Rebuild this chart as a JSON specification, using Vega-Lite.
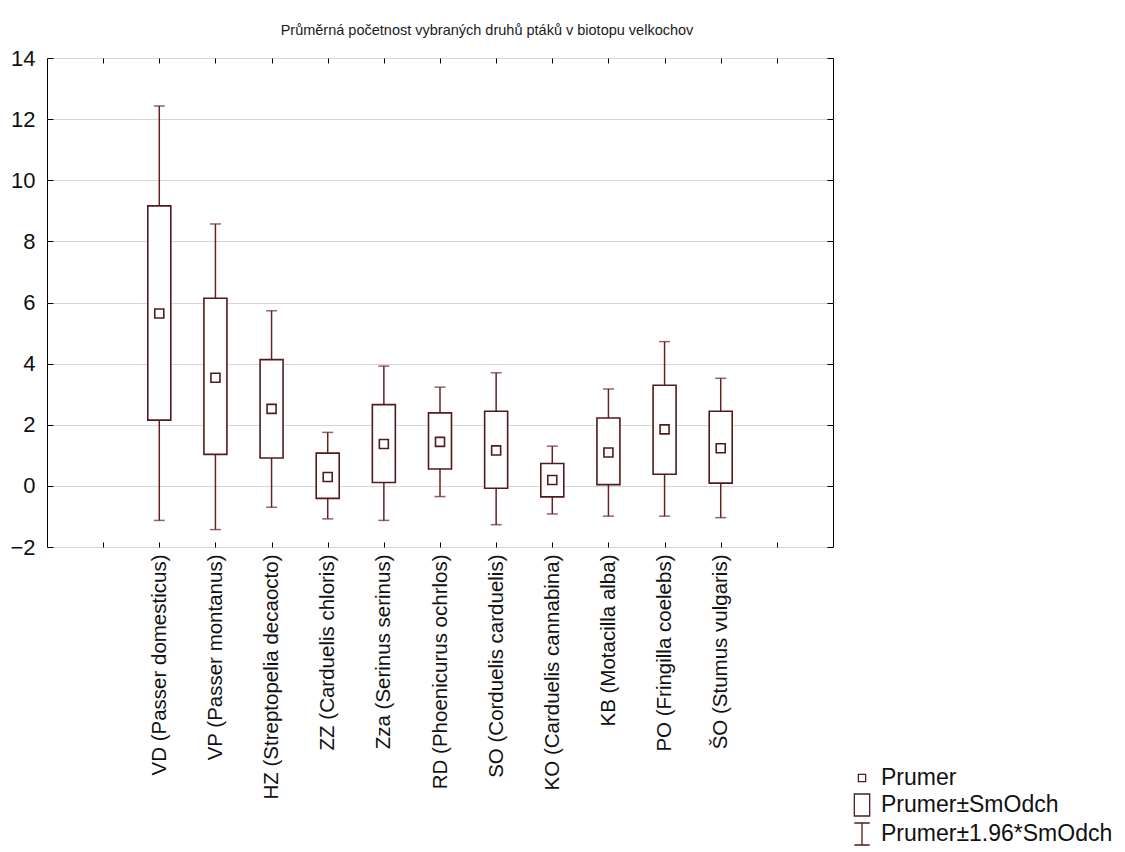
{
  "$schema": "https://vega.github.io/schema/vega-lite/v6.json",
  "width": 786,
  "height": 489,
  "autosize": "none",
  "padding": {"left": 47, "top": 58, "right": 292, "bottom": 305},
  "background": "white",
  "config": {
    "view": {"stroke": "black", "strokeWidth": 1},
    "font": "Liberation Sans"
  },
  "title": {
    "text": "Průměrná početnost vybraných druhů ptáků v biotopu velkochov",
    "fontSize": 14.5,
    "fontWeight": "normal",
    "color": "#1a1a1a",
    "font": "Liberation Sans",
    "dx": 47,
    "offset": 9
  },
  "data": {
    "values": [
      {"sp": "VD (Passer domesticus)", "mean": 5.64, "bl": 2.15, "bh": 9.16, "wl": -1.13, "wh": 12.43},
      {"sp": "VP (Passer montanus)", "mean": 3.54, "bl": 1.03, "bh": 6.14, "wl": -1.43, "wh": 8.57},
      {"sp": "HZ (Streptopelia decaocto)", "mean": 2.52, "bl": 0.91, "bh": 4.13, "wl": -0.70, "wh": 5.73},
      {"sp": "ZZ (Carduelis chloris)", "mean": 0.29, "bl": -0.41, "bh": 1.07, "wl": -1.08, "wh": 1.75},
      {"sp": "Zza (Serinus serinus)", "mean": 1.37, "bl": 0.11, "bh": 2.66, "wl": -1.13, "wh": 3.92},
      {"sp": "RD (Phoenicurus ochrlos)", "mean": 1.44, "bl": 0.55, "bh": 2.39, "wl": -0.35, "wh": 3.23},
      {"sp": "SO (Corduelis carduelis)", "mean": 1.16, "bl": -0.08, "bh": 2.44, "wl": -1.27, "wh": 3.70},
      {"sp": "KO (Carduelis cannabina)", "mean": 0.19, "bl": -0.36, "bh": 0.73, "wl": -0.92, "wh": 1.30},
      {"sp": "KB (Motacilla alba)", "mean": 1.09, "bl": 0.04, "bh": 2.22, "wl": -0.99, "wh": 3.17},
      {"sp": "PO (Fringilla coelebs)", "mean": 1.85, "bl": 0.38, "bh": 3.29, "wl": -0.99, "wh": 4.72},
      {"sp": "ŠO (Stumus vulgaris)", "mean": 1.23, "bl": 0.09, "bh": 2.44, "wl": -1.04, "wh": 3.52}
    ]
  },
  "resolve": {"axis": {"x": "independent", "y": "independent"}},
  "layer": [
    {
      "mark": {"type": "rule", "color": "#652222", "strokeWidth": 1.5},
      "encoding": {
        "x": {
          "field": "sp", "type": "nominal", "sort": null,
          "scale": {"type": "point", "padding": 1, "domain": ["_a", "VD (Passer domesticus)", "VP (Passer montanus)", "HZ (Streptopelia decaocto)", "ZZ (Carduelis chloris)", "Zza (Serinus serinus)", "RD (Phoenicurus ochrlos)", "SO (Corduelis carduelis)", "KO (Carduelis cannabina)", "KB (Motacilla alba)", "PO (Fringilla coelebs)", "ŠO (Stumus vulgaris)", "_b"]},
          "axis": {
            "title": null, "orient": "bottom", "domain": false, "grid": false,
            "labelAngle": -90, "labelFontSize": 20.5, "labelColor": "#111111",
            "labelPadding": 12, "tickSize": -5, "tickColor": "black", "tickWidth": 1,
            "labelExpr": "datum.value == '_a' || datum.value == '_b' ? '' : datum.value",
            "labelOverlap": false, "labelLimit": 400
          }
        },
        "y": {
          "field": "wl", "type": "quantitative",
          "scale": {"domain": [-2, 14], "nice": false, "zero": false},
          "axis": {
            "title": null, "orient": "left", "domain": false, "grid": true,
            "gridColor": "#d6d6d6", "gridWidth": 1,
            "values": [-2, 0, 2, 4, 6, 8, 10, 12, 14],
            "labelFontSize": 22, "labelColor": "#111111", "labelPadding": 18,
            "tickSize": -6, "tickColor": "black"
          }
        },
        "y2": {"field": "wh"}
      }
    },
    {
      "mark": {"type": "tick", "color": "#652222", "thickness": 1.5, "size": 11},
      "encoding": {
        "x": {"field": "sp", "type": "nominal", "sort": null, "axis": {"orient": "top", "title": null, "labels": false, "domain": false, "grid": false, "tickSize": -5, "tickColor": "black"}},
        "y": {"field": "wl", "type": "quantitative", "axis": {"orient": "right", "title": null, "labels": false, "domain": false, "grid": false, "values": [-2, 0, 2, 4, 6, 8, 10, 12, 14], "tickSize": -6, "tickColor": "black"}}
      }
    },
    {
      "mark": {"type": "tick", "color": "#652222", "thickness": 1.5, "size": 11},
      "encoding": {
        "x": {"field": "sp", "type": "nominal", "sort": null, "axis": null},
        "y": {"field": "wh", "type": "quantitative", "axis": null}
      }
    },
    {
      "mark": {"type": "bar", "fill": "white", "stroke": "#521a1a", "strokeWidth": 1.6, "size": 23},
      "encoding": {
        "x": {"field": "sp", "type": "nominal", "sort": null, "axis": null},
        "y": {"field": "bl", "type": "quantitative", "axis": null},
        "y2": {"field": "bh"}
      }
    },
    {
      "mark": {"type": "point", "filled": false, "color": "#521a1a", "strokeWidth": 1.6, "size": 745, "opacity": 1},
      "encoding": {
        "x": {"field": "sp", "type": "nominal", "sort": null, "axis": null},
        "y": {"field": "mean", "type": "quantitative", "axis": null},
        "shape": {
          "datum": "Prumer",
          "scale": {
            "domain": ["Prumer", "Prumer±SmOdch", "Prumer±1.96*SmOdch"],
            "range": ["M-0.33,-0.33H0.33V0.33H-0.33Z", "M-0.7,-1H0.7V1H-0.7Z", "M-0.7,-1H0.7M0,-1V1M-0.7,1H0.7"]
          },
          "legend": {
            "orient": "none", "legendX": 803, "legendY": 708, "title": null,
            "symbolSize": 484, "symbolStrokeColor": "#521a1a", "symbolFillColor": "transparent",
            "symbolStrokeWidth": 1.3, "labelFontSize": 23, "labelOffset": 7,
            "rowPadding": 1, "padding": 0, "labelColor": "#111111", "labelLimit": 400
          }
        }
      }
    }
  ]
}
